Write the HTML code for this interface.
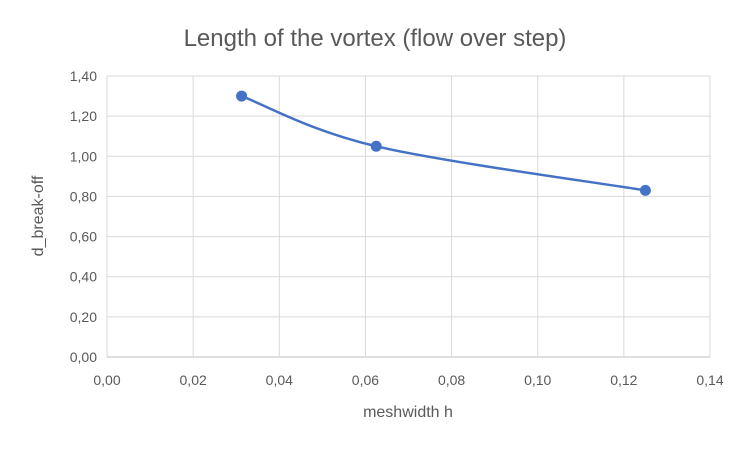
<!DOCTYPE html>
<html><head><meta charset="utf-8"><style>
body{margin:0;background:#fff;font-family:"Liberation Sans",sans-serif}
svg text{font-family:"Liberation Sans",sans-serif;fill:#595959}
</style></head><body>
<svg width="750" height="449">
<rect width="750" height="449" fill="#fff"/>
<text x="375" y="46" text-anchor="middle" font-size="24">Length of the vortex (flow over step)</text>
<g id="grid"></g>
<g id="ticks"></g>
<path id="line" fill="none" stroke="#4472C4" stroke-width="2.5"/>
<g id="pts"></g>
<text x="408" y="417" text-anchor="middle" font-size="16">meshwidth h</text>
<text transform="translate(43,216) rotate(-90)" text-anchor="middle" font-size="16">d_break-off</text>
</svg>
<script>
const xVals=[0.03125,0.0625,0.125];
const yVals=[1.30,1.05,0.83];
const xTicks=[0,0.02,0.04,0.06,0.08,0.10,0.12,0.14];
const yTicks=[0,0.2,0.4,0.6,0.8,1.0,1.2,1.4];
const X0=107,X1=710,Y0=357,Y1=76;
const sx=v=>X0+(v-0)/(0.14)*(X1-X0);
const sy=v=>Y0-(v/1.4)*(Y0-Y1);
const NS="http://www.w3.org/2000/svg";
const g=document.getElementById('grid'),t=document.getElementById('ticks'),p=document.getElementById('pts');
const fmt=v=>v.toFixed(2).replace('.',',');
yTicks.forEach(v=>{
 const l=document.createElementNS(NS,'line');
 
 
 l.setAttribute('x1',X0);l.setAttribute('x2',X1);l.setAttribute('y1',sy(v));l.setAttribute('y2',sy(v));
 l.setAttribute('stroke',v===0?'#bfbfbf':'#d9d9d9');g.appendChild(l);
 const tx=document.createElementNS(NS,'text');
 
 
 tx.setAttribute('x',X0-10);tx.setAttribute('y',sy(v)+5);tx.setAttribute('text-anchor','end');tx.setAttribute('font-size','14');
 tx.textContent=fmt(v);t.appendChild(tx);
});
xTicks.forEach(v=>{
 const l=document.createElementNS(NS,'line');
 
 
 l.setAttribute('x1',sx(v));l.setAttribute('x2',sx(v));l.setAttribute('y1',Y1);l.setAttribute('y2',Y0);
 l.setAttribute('stroke','#d9d9d9');g.appendChild(l);
 const tx=document.createElementNS(NS,'text');
 
 
 tx.setAttribute('x',sx(v));tx.setAttribute('y',Y0+28);tx.setAttribute('text-anchor','middle');tx.setAttribute('font-size','14');
 tx.textContent=fmt(v);t.appendChild(tx);
});
const P=xVals.map((x,i)=>[sx(x),sy(yVals[i])]);
let d='M'+P[0].join(',');
for(let i=0;i<P.length-1;i++){
 const p0=P[i-1]||P[i],p1=P[i],p2=P[i+1],p3=P[i+2]||P[i+1],k=1/6;
 const c1=[p1[0]+(p2[0]-p0[0])*k,p1[1]+(p2[1]-p0[1])*k];
 const c2=[p2[0]-(p3[0]-p1[0])*k,p2[1]-(p3[1]-p1[1])*k];
 d+=` C${c1.join(',')} ${c2.join(',')} ${p2.join(',')}`;
}
document.getElementById('line').setAttribute('d',d);
P.forEach(q=>{
 const c=document.createElementNS(NS,'circle');
 
 
 c.setAttribute('cx',q[0]);c.setAttribute('cy',q[1]);c.setAttribute('r',5.5);c.setAttribute('fill','#4472C4');
 p.appendChild(c);
});
</script>
</body></html>
